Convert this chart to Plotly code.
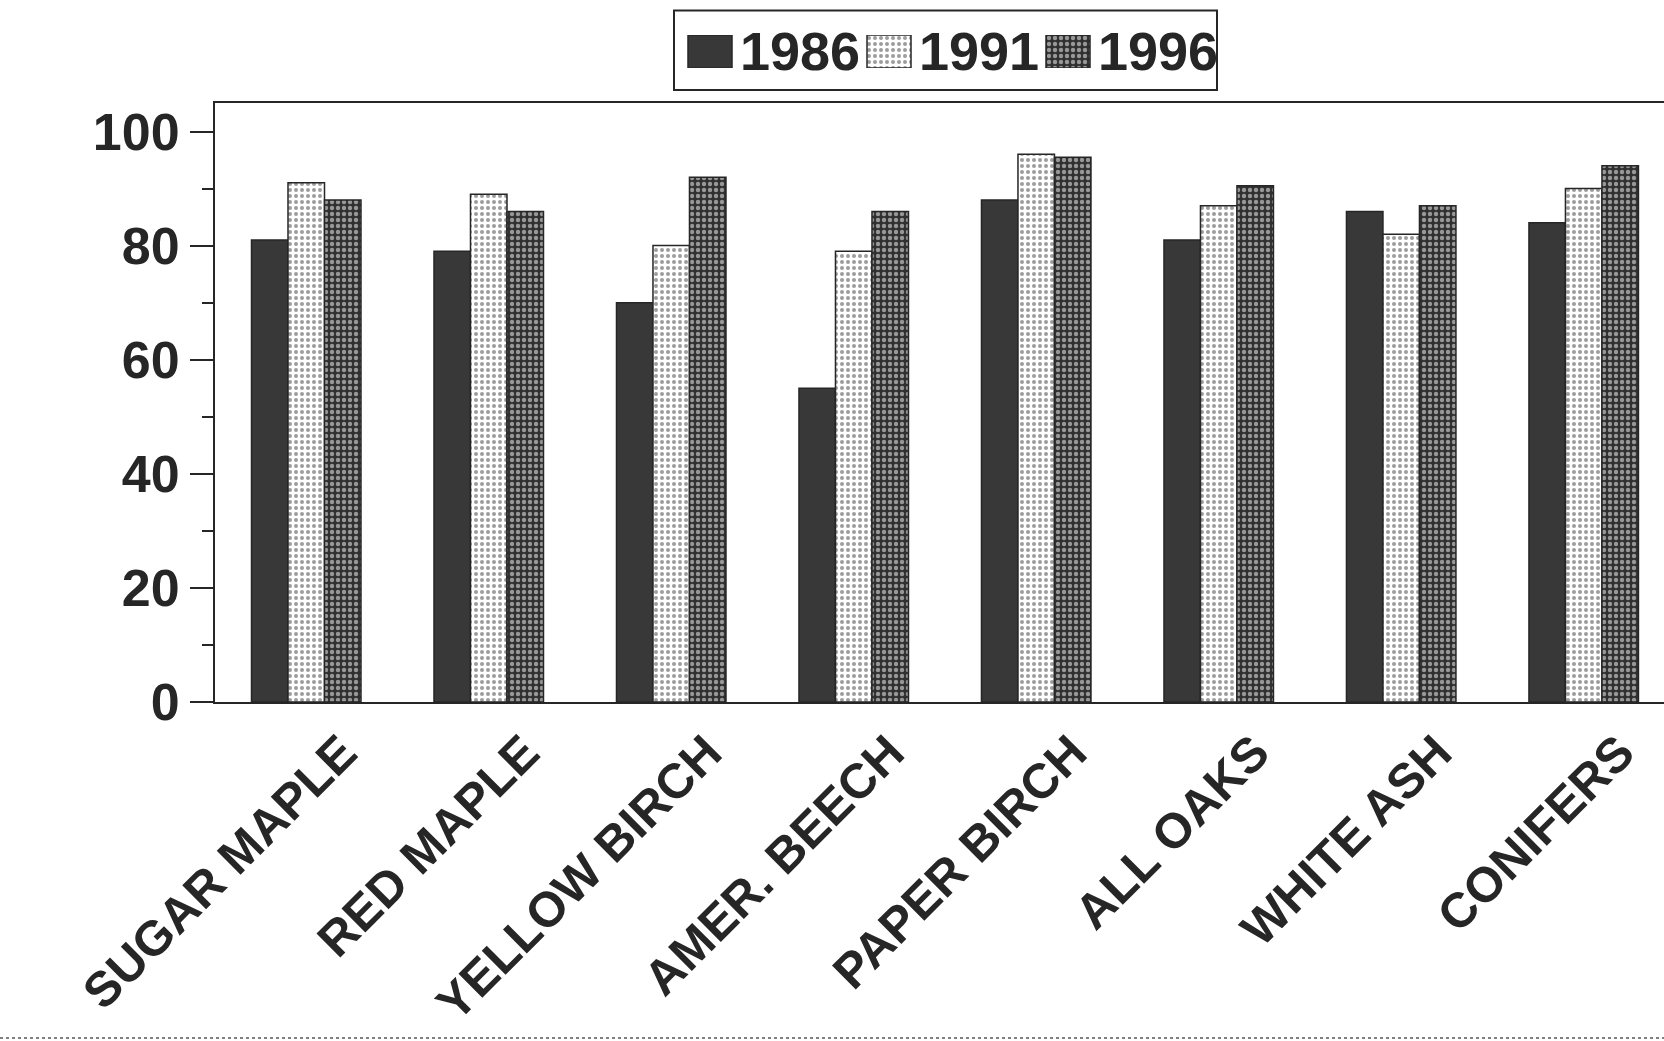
import plotly.graph_objects as go

# Species groups along the x axis
species = ["SUGAR MAPLE", "RED MAPLE", "YELLOW BIRCH", "AMER. BEECH",
           "PAPER BIRCH", "ALL OAKS", "WHITE ASH", "CONIFERS"]

# Values per survey year
years = ["1986", "1991", "1996"]
y1986 = [81, 79, 70, 55, 88, 81, 86, 84]
y1991 = [91, 89, 80, 79, 96, 87, 82, 90]
y1996 = [88, 86, 92, 86, 95.5, 90.5, 87, 94]
series = [y1986, y1991, y1996]

y_ticks = [0, 20, 40, 60, 80, 100]

INK = "#262626"
FONT = "Liberation Sans, Arial, sans-serif"

# Fill style for each year: solid, light halftone, dark halftone
styles = [
    dict(color="#383838", line=dict(color=INK, width=1.5)),
    dict(color="white", line=dict(color=INK, width=1.5),
         pattern=dict(shape=".", fgcolor="#3a3a3a", bgcolor="white",
                      size=6, solidity=0.35, fillmode="overlay")),
    dict(color="#303030", line=dict(color=INK, width=1.5),
         pattern=dict(shape=".", fgcolor="white", bgcolor="#303030",
                      size=6, solidity=0.42, fillmode="overlay")),
]

# Page geometry (pixels)
W, H = 1664, 1041
L, B = 215, 339
PLOT_TOP = 103
area_h = H - B


def px_x(p):
    return (p - L) / (W - L)


def px_y(p):
    return (area_h - p) / area_h


fig = go.Figure()

for name, vals, st in zip(years, series, styles):
    fig.add_trace(go.Bar(name=name, x=species, y=vals, marker=st,
                         showlegend=False, xaxis="x", yaxis="y"))

# Key along the top: one swatch per year on its own small axis pair
KEY_L, KEY_R, KEY_T, KEY_B = 674, 1217, 10.6, 90
SLOT = 179
SW_L, SW_W, SW_T, SW_H = 688, 44, 35, 33
TXT_L = 738
slot_c0 = KEY_L + SLOT / 2
for i, (name, st) in enumerate(zip(years, styles)):
    fig.add_trace(go.Bar(
        x=[name], y=[1], base=0, marker=st, showlegend=False,
        offset=(SW_L - slot_c0) / SLOT, width=SW_W / SLOT,
        xaxis="x2", yaxis="y2", hoverinfo="skip",
    ))
    fig.add_annotation(
        xref="paper", yref="paper",
        x=px_x(TXT_L + i * SLOT), y=px_y(SW_T + SW_H / 2 - 1),
        xanchor="left", yanchor="middle",
        text=name, showarrow=False,
        font=dict(family=FONT, size=54, color=INK, weight="bold"),
    )

fig.add_shape(type="rect", xref="paper", yref="paper",
              x0=px_x(KEY_L), x1=px_x(KEY_R), y0=px_y(KEY_B), y1=px_y(KEY_T),
              line=dict(color=INK, width=2), fillcolor="rgba(0,0,0,0)",
              layer="below")

# thin dotted rule running across the foot of the page
fig.add_shape(type="line", xref="paper", yref="paper",
              x0=px_x(0), x1=1.0, y0=px_y(1038), y1=px_y(1038),
              line=dict(color="#555555", width=1.5, dash="dot"))

fig.update_layout(
    width=W, height=H,
    margin=dict(l=L, r=0, t=0, b=B, autoexpand=False),
    paper_bgcolor="white", plot_bgcolor="white",
    barmode="group", bargap=0.4, bargroupgap=0,
    font=dict(family=FONT, color=INK, size=48, weight="bold"),
    showlegend=False,
    xaxis=dict(
        range=[-0.5, 7.44], showline=True, linecolor=INK, linewidth=2,
        mirror=True, ticks="", showgrid=False, tickangle=-45,
        ticklabelshift=36, ticklabelstandoff=0, automargin=False,
        tickfont=dict(family=FONT, size=49, color=INK, weight="bold"),
    ),
    yaxis=dict(
        domain=[0, px_y(PLOT_TOP)], automargin=False,
        range=[0, 105], tickvals=y_ticks, showline=True, linecolor=INK,
        linewidth=2, ticks="outside", ticklen=23, tickwidth=2, tickcolor=INK,
        minor=dict(dtick=10, ticks="outside", ticklen=11, tickwidth=2,
                   tickcolor=INK),
        showgrid=False, zeroline=False,
        tickfont=dict(family=FONT, size=52, color=INK, weight="bold"),
    ),
    xaxis2=dict(
        domain=[px_x(KEY_L), px_x(KEY_L + 3 * SLOT)], anchor="y2",
        type="category", categoryorder="array", categoryarray=years,
        range=[-0.5, 2.5], visible=False, fixedrange=True,
    ),
    yaxis2=dict(
        domain=[px_y(SW_T + SW_H), px_y(SW_T)], anchor="x2",
        range=[0, 1], visible=False, fixedrange=True,
    ),
)

fig.write_html("out.html")
